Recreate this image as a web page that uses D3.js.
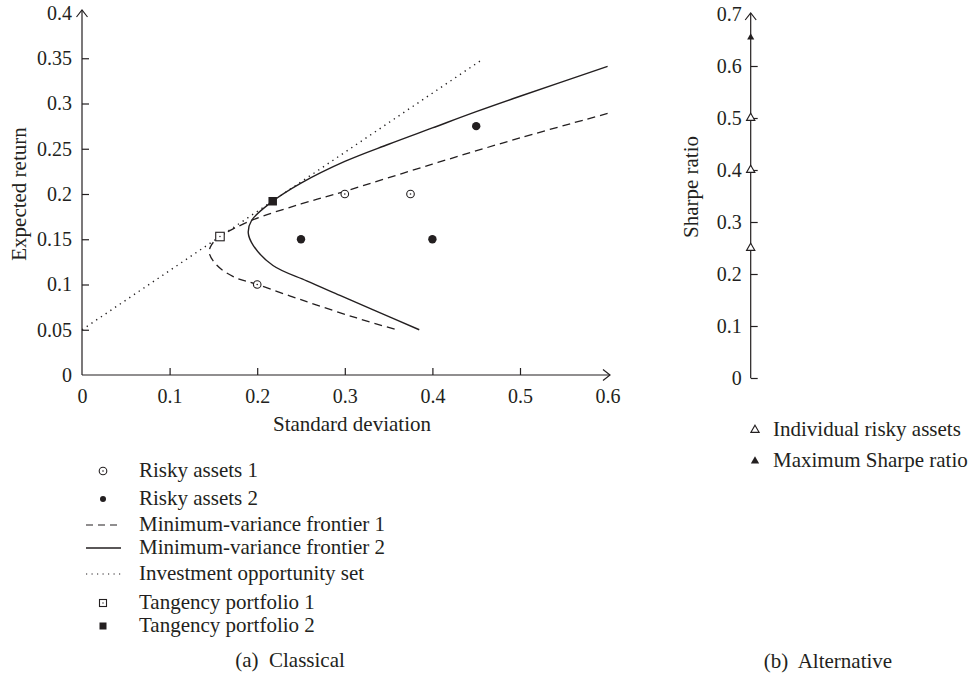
<!DOCTYPE html>
<html lang="en">
	<head>
		<meta charset="utf-8">
		<title>Classical vs alternative</title>
		<script src="https://d3js.org/d3.v7.min.js"></script>
		<style>
			body { margin: 0; background: #fff; }
			text { font-family: "Liberation Serif", "DejaVu Serif", serif; fill: #231f20; }
		</style>
	</head>
	<body>
		<script type="text/javascript">

			// ---- data ----
			// (a) classical: [standard deviation, expected return]
			var riskyAssets1 = [[0.2, 0.1], [0.3, 0.2], [0.375, 0.2]];
			var riskyAssets2 = [[0.25, 0.15], [0.4, 0.15], [0.45, 0.275]];
			var frontier1 = [[0.6, 0.289], [0.5, 0.262], [0.4, 0.233], [0.3, 0.203], [0.25, 0.189],
				[0.194, 0.171], [0.1575, 0.153], [0.148, 0.144], [0.1453, 0.135], [0.1537, 0.1215],
				[0.1727, 0.1087], [0.2, 0.1], [0.2565, 0.081], [0.3136, 0.063], [0.359, 0.05]];
			var frontier2 = [[0.6, 0.341], [0.5, 0.308], [0.45, 0.291], [0.4, 0.273], [0.35, 0.255],
				[0.3, 0.236], [0.25, 0.212], [0.2177, 0.192], [0.1937, 0.171], [0.1898, 0.157],
				[0.1956, 0.143], [0.218, 0.121], [0.2565, 0.104], [0.2945, 0.088], [0.3325, 0.072], [0.385, 0.05]];
			var opportunitySet = [[0, 0.05], [0.456, 0.348]];
			var tangency1 = [[0.1575, 0.153]];
			var tangency2 = [[0.2177, 0.192]];

			// (b) alternative: Sharpe ratios
			var sharpeIndividual = [0.25, 0.4, 0.5];
			var sharpeMax = [0.655];

			// ticks
			var xTicks = [0, 0.1, 0.2, 0.3, 0.4, 0.5, 0.6];
			var xTickLabels = ["0", "0.1", "0.2", "0.3", "0.4", "0.5", "0.6"];
			var yTicks = [0, 0.05, 0.1, 0.15, 0.2, 0.25, 0.3, 0.35, 0.4];
			var yTickLabels = ["0", "0.05", "0.1", "0.15", "0.2", "0.25", "0.3", "0.35", "0.4"];
			var sTicks = [0, 0.1, 0.2, 0.3, 0.4, 0.5, 0.6, 0.7];
			var sTickLabels = ["0", "0.1", "0.2", "0.3", "0.4", "0.5", "0.6", "0.7"];

			var legendA = ["Risky assets 1", "Risky assets 2", "Minimum-variance frontier 1",
				"Minimum-variance frontier 2", "Investment opportunity set", "Tangency portfolio 1", "Tangency portfolio 2"];
			var legendB = ["Individual risky assets", "Maximum Sharpe ratio"];

			// ---- layout ----
			var w = 975, h = 680;
			var ink = "#231f20";
			var fs = 21;     // labels, legend, captions
			var tfs = 20;    // tick labels

			var svg = d3.select("body").append("svg").attr("width", w).attr("height", h);

			// scales
			var xScale = d3.scaleLinear().domain([0, 0.6]).range([82, 607.6]);
			var yScale = d3.scaleLinear().domain([0, 0.4]).range([375, 13]);
			var sScale = d3.scaleLinear().domain([0, 0.7]).range([378, 14]);
			var sx = 750.7;

			// open arrow head at the end of an axis
			function arrow(g, x, y, dir) {
				var p = dir == "up"
					? [[x - 5.5, y + 7], [x, y], [x + 5.5, y + 7]]
					: [[x - 7, y - 5.5], [x, y], [x - 7, y + 5.5]];
				g.append("path").attr("d", d3.line()(p)).attr("fill", "none")
					.attr("stroke", ink).attr("stroke-width", 1.2);
			}

			function styleAxis(g) {
				g.select(".domain").remove();
				g.selectAll(".tick line").attr("stroke", ink).attr("stroke-width", 1.2);
				g.selectAll(".tick text").attr("font-size", tfs).attr("font-family", "Liberation Serif").attr("fill", ink);
			}

			// ---- (a) classical ----
			var gA = svg.append("g");

			var xAxis = d3.axisBottom(xScale).tickValues(xTicks)
				.tickFormat(function (d, i) { return xTickLabels[i]; })
				.tickSize(-7).tickPadding(14);
			var gx = gA.append("g").attr("transform", "translate(0," + yScale(0) + ")").call(xAxis);
			styleAxis(gx);
			gx.selectAll(".tick").filter(function (d) { return d == 0 || d == 0.6; }).select("line").remove();

			var yAxis = d3.axisLeft(yScale).tickValues(yTicks)
				.tickFormat(function (d, i) { return yTickLabels[i]; })
				.tickSize(-7).tickPadding(10);
			var gy = gA.append("g").attr("transform", "translate(" + xScale(0) + ",0)").call(yAxis);
			styleAxis(gy);
			gy.selectAll(".tick").filter(function (d) { return d == 0 || d == 0.4; }).select("line").remove();

			gA.append("line").attr("x1", xScale(0)).attr("y1", yScale(0)).attr("x2", 610).attr("y2", yScale(0))
				.attr("stroke", ink).attr("stroke-width", 1.2);
			gA.append("line").attr("x1", xScale(0)).attr("y1", yScale(0)).attr("x2", xScale(0)).attr("y2", 10)
				.attr("stroke", ink).attr("stroke-width", 1.2);
			arrow(gA, 610, yScale(0), "right");
			arrow(gA, xScale(0), 10, "up");

			gA.append("text").attr("x", 352).attr("y", 431).attr("text-anchor", "middle")
				.attr("font-size", fs).text("Standard deviation");
			gA.append("text").attr("transform", "translate(26,194) rotate(-90)").attr("text-anchor", "middle")
				.attr("font-size", fs).text("Expected return");

			var line = d3.line().x(function (d) { return xScale(d[0]); }).y(function (d) { return yScale(d[1]); });
			var curve = d3.line().curve(d3.curveCatmullRom.alpha(0.5))
				.x(function (d) { return xScale(d[0]); }).y(function (d) { return yScale(d[1]); });

			gA.append("path").datum(opportunitySet).attr("d", line).attr("fill", "none")
				.attr("stroke", ink).attr("stroke-width", 1.4).attr("stroke-dasharray", "1.3,4.4");
			gA.append("path").datum(frontier1).attr("d", curve).attr("fill", "none")
				.attr("stroke", ink).attr("stroke-width", 1.3).attr("stroke-dasharray", "8,5");
			gA.append("path").datum(frontier2).attr("d", curve).attr("fill", "none")
				.attr("stroke", ink).attr("stroke-width", 1.4);

			// open circles with a centre dot
			function openCircle(g, x, y) {
				g.append("circle").attr("cx", x).attr("cy", y).attr("r", 3.8).attr("fill", "#fff")
					.attr("stroke", ink).attr("stroke-width", 1.1);
				g.append("circle").attr("cx", x).attr("cy", y).attr("r", 0.8).attr("fill", ink);
			}
			function openSquare(g, x, y, s) {
				g.append("rect").attr("x", x - s / 2).attr("y", y - s / 2).attr("width", s).attr("height", s)
					.attr("fill", "#fff").attr("stroke", ink).attr("stroke-width", 1.1);
				g.append("circle").attr("cx", x).attr("cy", y).attr("r", 0.7).attr("fill", ink);
			}
			function fillSquare(g, x, y, s) {
				g.append("rect").attr("x", x - s / 2).attr("y", y - s / 2).attr("width", s).attr("height", s).attr("fill", ink);
			}

			riskyAssets1.forEach(function (d) { openCircle(gA, xScale(d[0]), yScale(d[1])); });
			gA.selectAll("circle.r2").data(riskyAssets2).enter().append("circle").attr("class", "r2")
				.attr("cx", function (d) { return xScale(d[0]); }).attr("cy", function (d) { return yScale(d[1]); })
				.attr("r", 4.2).attr("fill", ink);
			tangency1.forEach(function (d) { openSquare(gA, xScale(d[0]), yScale(d[1]), 8.5); });
			tangency2.forEach(function (d) { fillSquare(gA, xScale(d[0]), yScale(d[1]), 8.5); });

			// legend (a)
			var rowsA = [471, 499, 525, 548, 574, 603, 626];
			var lg = gA.append("g");
			legendA.forEach(function (t, i) {
				lg.append("text").attr("x", 139).attr("y", rowsA[i] + 6).attr("font-size", fs).text(t);
			});
			openCircle(lg, 103, rowsA[0]);
			lg.append("circle").attr("cx", 103).attr("cy", rowsA[1]).attr("r", 3).attr("fill", ink);
			lg.append("line").attr("x1", 86).attr("x2", 122).attr("y1", rowsA[2]).attr("y2", rowsA[2])
				.attr("stroke", ink).attr("stroke-width", 1.2).attr("stroke-dasharray", "7,5");
			lg.append("line").attr("x1", 86).attr("x2", 121).attr("y1", rowsA[3]).attr("y2", rowsA[3])
				.attr("stroke", ink).attr("stroke-width", 1.3);
			lg.append("line").attr("x1", 86).attr("x2", 122).attr("y1", rowsA[4]).attr("y2", rowsA[4])
				.attr("stroke", ink).attr("stroke-width", 1.2).attr("stroke-dasharray", "1.2,4.3");
			openSquare(lg, 103, rowsA[5], 7);
			fillSquare(lg, 103, rowsA[6], 7);

			gA.append("text").attr("x", 290).attr("y", 667).attr("text-anchor", "middle")
				.attr("font-size", fs).attr("xml:space", "preserve").text("(a)  Classical");

			// ---- (b) alternative ----
			var gB = svg.append("g");
			var sAxis = d3.axisLeft(sScale).tickValues(sTicks)
				.tickFormat(function (d, i) { return sTickLabels[i]; })
				.tickSize(-7).tickPadding(9);
			var gs = gB.append("g").attr("transform", "translate(" + sx + ",0)").call(sAxis);
			styleAxis(gs);
			gs.selectAll(".tick").filter(function (d) { return d == 0.7; }).select("line").remove();
			gB.append("line").attr("x1", sx).attr("y1", sScale(0)).attr("x2", sx).attr("y2", 13)
				.attr("stroke", ink).attr("stroke-width", 1.2);
			arrow(gB, sx, 13, "up");

			gB.append("text").attr("transform", "translate(698,187) rotate(-90)").attr("text-anchor", "middle")
				.attr("font-size", fs).text("Sharpe ratio");

			var tri = d3.symbol().type(d3.symbolTriangle).size(30);
			gB.selectAll("path.ind").data(sharpeIndividual).enter().append("path").attr("class", "ind")
				.attr("d", tri).attr("transform", function (d) { return "translate(" + sx + "," + sScale(d) + ")"; })
				.attr("fill", "#fff").attr("stroke", ink).attr("stroke-width", 1.1);
			gB.selectAll("path.max").data(sharpeMax).enter().append("path").attr("class", "max")
				.attr("d", d3.symbol().type(d3.symbolTriangle).size(22))
				.attr("transform", function (d) { return "translate(" + sx + "," + sScale(d) + ")"; })
				.attr("fill", ink);

			var rowsB = [430, 461];
			legendB.forEach(function (t, i) {
				gB.append("text").attr("x", 773).attr("y", rowsB[i] + 6).attr("font-size", fs).text(t);
			});
			gB.append("path").attr("d", tri).attr("transform", "translate(755," + rowsB[0] + ")")
				.attr("fill", "#fff").attr("stroke", ink).attr("stroke-width", 1.1);
			gB.append("path").attr("d", d3.symbol().type(d3.symbolTriangle).size(30))
				.attr("transform", "translate(755," + rowsB[1] + ")").attr("fill", ink);

			gB.append("text").attr("x", 828).attr("y", 668).attr("text-anchor", "middle")
				.attr("font-size", fs).attr("xml:space", "preserve").text("(b)  Alternative");

		</script>
	</body>
</html>
